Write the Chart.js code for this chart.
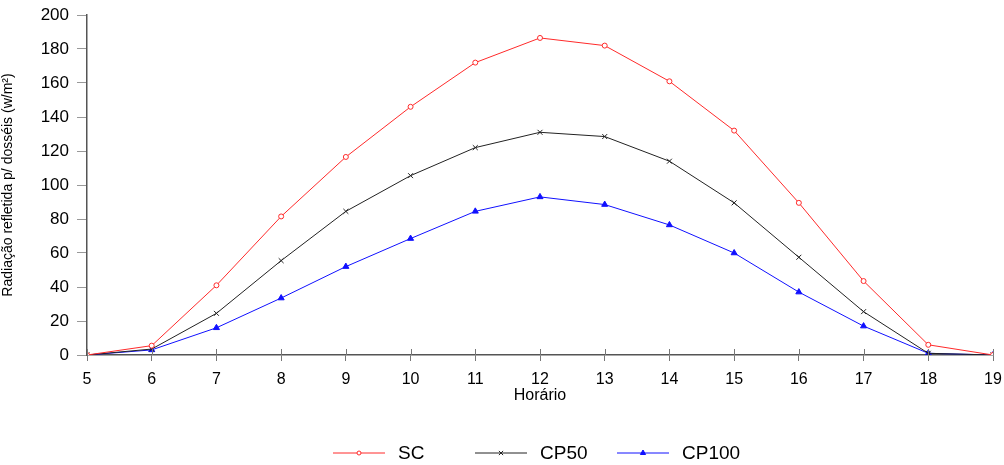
<!DOCTYPE html>
<html>
<head>
<meta charset="utf-8">
<script src="https://cdn.jsdelivr.net/npm/chart.js@4"></script>
<style>
  html, body { margin: 0; padding: 0; background: #fff; }
  #wrap { width: 1004px; height: 465px; }
</style>
</head>
<body>
<div id="wrap"><canvas id="chart" width="1004" height="465"></canvas></div>
<script>
// dados
const horas = [5, 6, 7, 8, 9, 10, 11, 12, 13, 14, 15, 16, 17, 18, 19];
const sc    = [0, 5.5, 41, 81.5, 116.5, 146, 172, 186.5, 182, 161, 132, 89.5, 43.5, 6, 0];
const cp50  = [0, 3.5, 24.5, 55.5, 84.5, 105.5, 122, 131, 128.5, 114, 89.5, 57.5, 25.5, 1, 0];
const cp100 = [0, 3, 16, 33.5, 52, 68.5, 84.5, 93, 88.5, 76.5, 60, 37, 17, 1, 0];

const series = [
  { label: 'SC', data: sc, color: '#ff2a2a', style: 'circle', radius: 2.5, fill: '#fff' },
  { label: 'CP50', data: cp50, color: '#222222', style: 'crossRot', radius: 3.5, fill: '#222' },
  { label: 'CP100', data: cp100, color: '#1010ff', style: 'triangle', radius: 3.5, fill: '#1010ff' }
];

const FONT = 'Liberation Sans, Arial, sans-serif';

// legenda desenhada embaixo: linha + marcador + texto
const legendaPlugin = {
  id: 'legenda',
  afterDraw(chart) {
    const ctx = chart.ctx;
    const xs = [333, 475, 617];
    const y = 453;
    ctx.save();
    chart.data.datasets.forEach((ds, i) => {
      const x0 = xs[i];
      ctx.strokeStyle = ds.borderColor;
      ctx.lineWidth = 1;
      ctx.beginPath();
      ctx.moveTo(x0, y);
      ctx.lineTo(x0 + 52, y);
      ctx.stroke();
      ctx.fillStyle = ds.pointBackgroundColor;
      ctx.strokeStyle = ds.borderColor;
      Chart.helpers.drawPoint(ctx, {
        pointStyle: ds.pointStyle, radius: ds.pointRadius - 0.5, borderWidth: 1
      }, x0 + 26, y);
      ctx.fillStyle = '#000';
      ctx.font = '19px ' + FONT;
      ctx.textBaseline = 'middle';
      ctx.fillText(ds.label, x0 + 65, y + 1);
    });
    ctx.restore();
  }
};

// marcas do eixo x que atravessam a linha do eixo
const marcasPlugin = {
  id: 'marcas',
  afterDraw(chart) {
    const ctx = chart.ctx;
    const xs = chart.scales.x;
    const bottom = chart.chartArea.bottom;
    ctx.save();
    ctx.strokeStyle = '#777';
    ctx.lineWidth = 1;
    horas.forEach(h => {
      const px = Math.round(xs.getPixelForValue(h)) + 0.5;
      ctx.beginPath();
      ctx.moveTo(px, bottom - 6);
      ctx.lineTo(px, bottom);
      ctx.stroke();
    });
    ctx.restore();
  }
};

new Chart(document.getElementById('chart').getContext('2d'), {
  type: 'line',
  data: {
    datasets: series.map(s => ({
      label: s.label,
      data: horas.map((h, i) => ({ x: h, y: s.data[i] })),
      borderColor: s.color,
      borderWidth: 1,
      pointStyle: s.style,
      pointRadius: s.radius,
      pointBorderColor: s.color,
      pointBackgroundColor: s.fill,
      pointBorderWidth: 1,
      tension: 0
    }))
  },
  options: {
    responsive: false,
    animation: false,
    layout: { padding: { left: 0, right: 11, top: 15, bottom: 56 } },
    plugins: {
      legend: { display: false },
      tooltip: { enabled: false }
    },
    scales: {
      x: {
        type: 'linear',
        min: 5,
        max: 19,
        afterFit(scale) {
          scale.height = 54;
          scale.paddingLeft = 0;
          scale.paddingRight = 0;
        },
        ticks: {
          stepSize: 1,
          color: '#000',
          font: { family: FONT, size: 16 },
          padding: 9
        },
        grid: {
          drawOnChartArea: false,
          drawTicks: true,
          tickLength: 6,
          color: '#777'
        },
        border: { color: '#555', width: 1.5 },
        title: {
          display: true,
          text: 'Horário',
          color: '#000',
          font: { family: FONT, size: 16 },
          padding: { top: 0, bottom: 4 }
        }
      },
      y: {
        min: 0,
        max: 200,
        afterFit(scale) {
          scale.width = 87;
          scale.paddingTop = 0;
          scale.paddingBottom = 0;
        },
        ticks: {
          stepSize: 10,
          color: '#000',
          font: { family: FONT, size: 17 },
          padding: 8,
          callback: v => (v % 20 === 0 ? v : '')
        },
        grid: {
          drawOnChartArea: false,
          drawTicks: true,
          tickLength: 10,
          color: '#999'
        },
        border: { color: '#555', width: 1.5 },
        title: {
          display: true,
          text: 'Radiação refletida p/ dosséis (w/m²)',
          color: '#000',
          font: { family: FONT, size: 14 },
          padding: { top: 0, bottom: 2 }
        }
      }
    }
  },
  plugins: [marcasPlugin, legendaPlugin]
});
</script>
</body>
</html>
